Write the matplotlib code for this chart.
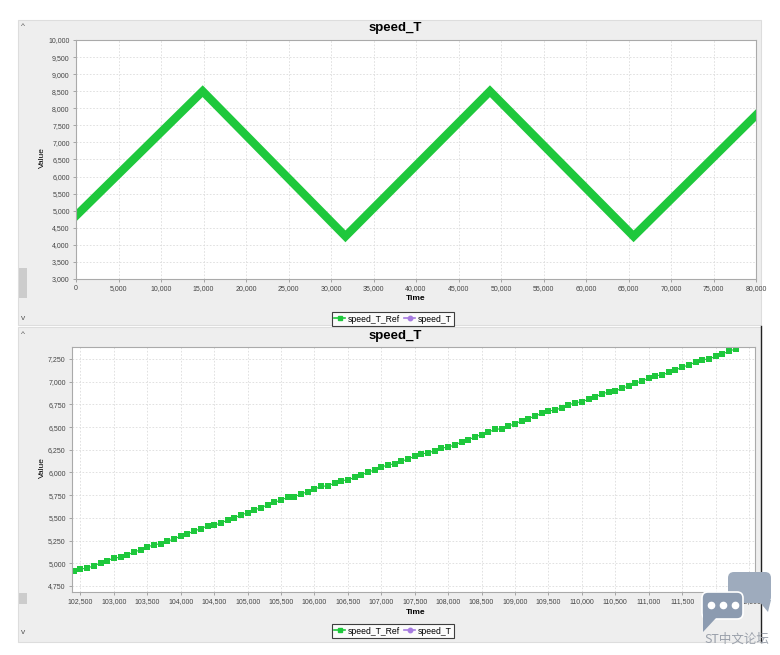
import numpy as np
import matplotlib.pyplot as plt
from matplotlib.ticker import FuncFormatter, MultipleLocator
from matplotlib.lines import Line2D
from matplotlib.patches import Rectangle, FancyBboxPatch, Polygon

plt.rcParams['font.family'] = ['Liberation Sans', 'DejaVu Sans']

W, H = 780, 655

# top chart: corner points of the speed_T_Ref triangle wave
top_time = [0, 14900, 31700, 48700, 65600, 80000]
top_ref = [4850, 8500, 4250, 8500, 4250, 7800]

# bottom chart: zoomed samples of speed_T_Ref, one every 100 ms
bottom_start = 102400
bottom_step = 100
bottom_ref = [
    4910, 4938, 4946, 4974, 5002, 5030, 5058, 5066, 5094, 5122,
    5150, 5178, 5206, 5214, 5242, 5270, 5298, 5326, 5354, 5382,
    5410, 5418, 5446, 5474, 5502, 5530, 5558, 5586, 5614, 5642,
    5670, 5698, 5726, 5734, 5762, 5790, 5818, 5846, 5854, 5882,
    5910, 5918, 5946, 5974, 6002, 6030, 6058, 6086, 6094, 6122,
    6150, 6178, 6206, 6214, 6242, 6270, 6278, 6306, 6334, 6362,
    6390, 6418, 6446, 6474, 6482, 6510, 6538, 6566, 6594, 6622,
    6650, 6678, 6686, 6714, 6742, 6770, 6778, 6806, 6834, 6862,
    6890, 6898, 6926, 6954, 6982, 7010, 7038, 7066, 7074, 7102,
    7130, 7158, 7186, 7214, 7242, 7250, 7278, 7306, 7334, 7362,
]
bottom_time = bottom_start + bottom_step * np.arange(len(bottom_ref))

series_names = ['speed_T_Ref', 'speed_T']
GREEN = '#1ec83c'
PURPLE = '#a67be0'

fig = plt.figure(figsize=(W / 100, H / 100), dpi=100)
fig.patch.set_facecolor('white')


def px_axes(l, t, r, b, **kw):
    return fig.add_axes([l / W, 1 - b / H, (r - l) / W, (b - t) / H], **kw)


def ftext(x, y, s, **kw):
    fig.text(x / W, 1 - y / H, s, **kw)


# background: panels, scroll bits
bg = px_axes(0, 0, W, H)
bg.set_xlim(0, W)
bg.set_ylim(H, 0)
bg.axis('off')
bg.add_patch(Rectangle((18, 20), 743, 305, fc='#eeeeee', ec='#dddddd', lw=0.8))
bg.add_patch(Rectangle((18, 327), 743, 315, fc='#eeeeee', ec='#dddddd', lw=0.8))
bg.plot([761, 761], [326, 642], color='#222222', lw=1.0)
bg.add_patch(Rectangle((19, 268), 8, 30, fc='#cccccc', ec='none'))
bg.add_patch(Rectangle((19, 593), 8, 11, fc='#cccccc', ec='none'))
for y, s in [(27, '^'), (318, 'v'), (334, '^'), (632, 'v')]:
    bg.text(23, y, s, fontsize=6, color='#555555', ha='center', va='center')

comma = FuncFormatter(lambda v, p: f"{v:,.0f}")


def style_axes(ax):
    ax.set_facecolor('white')
    for sp in ax.spines.values():
        sp.set_color('#aaaaaa')
        sp.set_linewidth(0.8)
    ax.tick_params(length=2.5, width=0.6, color='#999999', labelsize=5,
                   labelcolor='#444444', pad=2)
    ax.xaxis.set_major_formatter(comma)
    ax.yaxis.set_major_formatter(comma)
    ax.grid(True, color='#dcdcdc', lw=0.6, ls=(0, (2, 2)))
    ax.set_axisbelow(True)


# top chart
ax1 = px_axes(76, 40, 756, 279)
style_axes(ax1)
ax1.plot(top_time, top_ref, color=GREEN, lw=6, solid_joinstyle='miter')
ax1.set_xlim(0, 80000)
ax1.set_ylim(3000, 10000)
ax1.xaxis.set_major_locator(MultipleLocator(5000))
ax1.yaxis.set_major_locator(MultipleLocator(500))

# bottom chart
ax2 = px_axes(72, 347, 755, 592)
style_axes(ax2)
ax2.plot(bottom_time, bottom_ref, color=GREEN, lw=0.8, marker='s', ms=4.1,
         mec=GREEN, mfc=GREEN, mew=0)
ax2.set_xlim(102373, 112590)
ax2.set_ylim(4684, 7382)
ax2.xaxis.set_major_locator(MultipleLocator(500))
ax2.yaxis.set_major_locator(MultipleLocator(250))

# titles and axis labels
for ty, xy, vy in [(28, 298, 158), (336, 612, 468)]:
    ftext(395, ty, 'speed_T', fontsize=9.5, fontweight='bold', ha='center', va='center')
    ftext(416, xy, 'Time', fontsize=6, ha='center', va='center', fontweight='bold')
    ftext(42, vy, 'Value', fontsize=6, ha='center', va='center', rotation=90)

handles = [
    Line2D([], [], color=GREEN, marker='s', ms=3.5, lw=1.2),
    Line2D([], [], color=PURPLE, marker='o', ms=3.2, lw=1.2),
]
for ly in [319, 631]:
    leg = fig.legend(handles, series_names, loc='center',
                     bbox_to_anchor=(393 / W, 1 - ly / H), ncol=2, fontsize=6.2,
                     handlelength=1.3, handletextpad=0.3, columnspacing=0.5,
                     borderpad=0.25, frameon=True, fancybox=False)
    leg.get_frame().set_edgecolor('#111111')
    leg.get_frame().set_linewidth(0.8)

# watermark in the lower right corner
wm = px_axes(0, 0, W, H)
wm.set_xlim(0, W)
wm.set_ylim(H, 0)
wm.axis('off')
wm.set_zorder(10)
wm.add_patch(FancyBboxPatch((728, 572), 43, 31, boxstyle='round,pad=0,rounding_size=6',
                            fc='#9eabbd', ec='none'))
wm.add_patch(Polygon([[758, 600], [771, 600], [768, 612]], fc='#9eabbd', ec='none'))
wm.add_patch(FancyBboxPatch((702, 592), 41, 27, boxstyle='round,pad=0,rounding_size=6',
                            fc='#8c9bb0', ec='white', lw=1.2))
wm.add_patch(Polygon([[703, 612], [716, 618], [703, 632]], fc='#8c9bb0', ec='none'))
for dx in [711, 723, 735]:
    wm.plot(dx, 605, 'o', ms=4.5, color='white')
wm.text(737, 639, 'ST中文论坛', fontsize=9, color='#9aa0aa', ha='center', va='center',
        family=['Noto Sans CJK SC', 'DejaVu Sans'])

fig.savefig('out.png', dpi=100)
